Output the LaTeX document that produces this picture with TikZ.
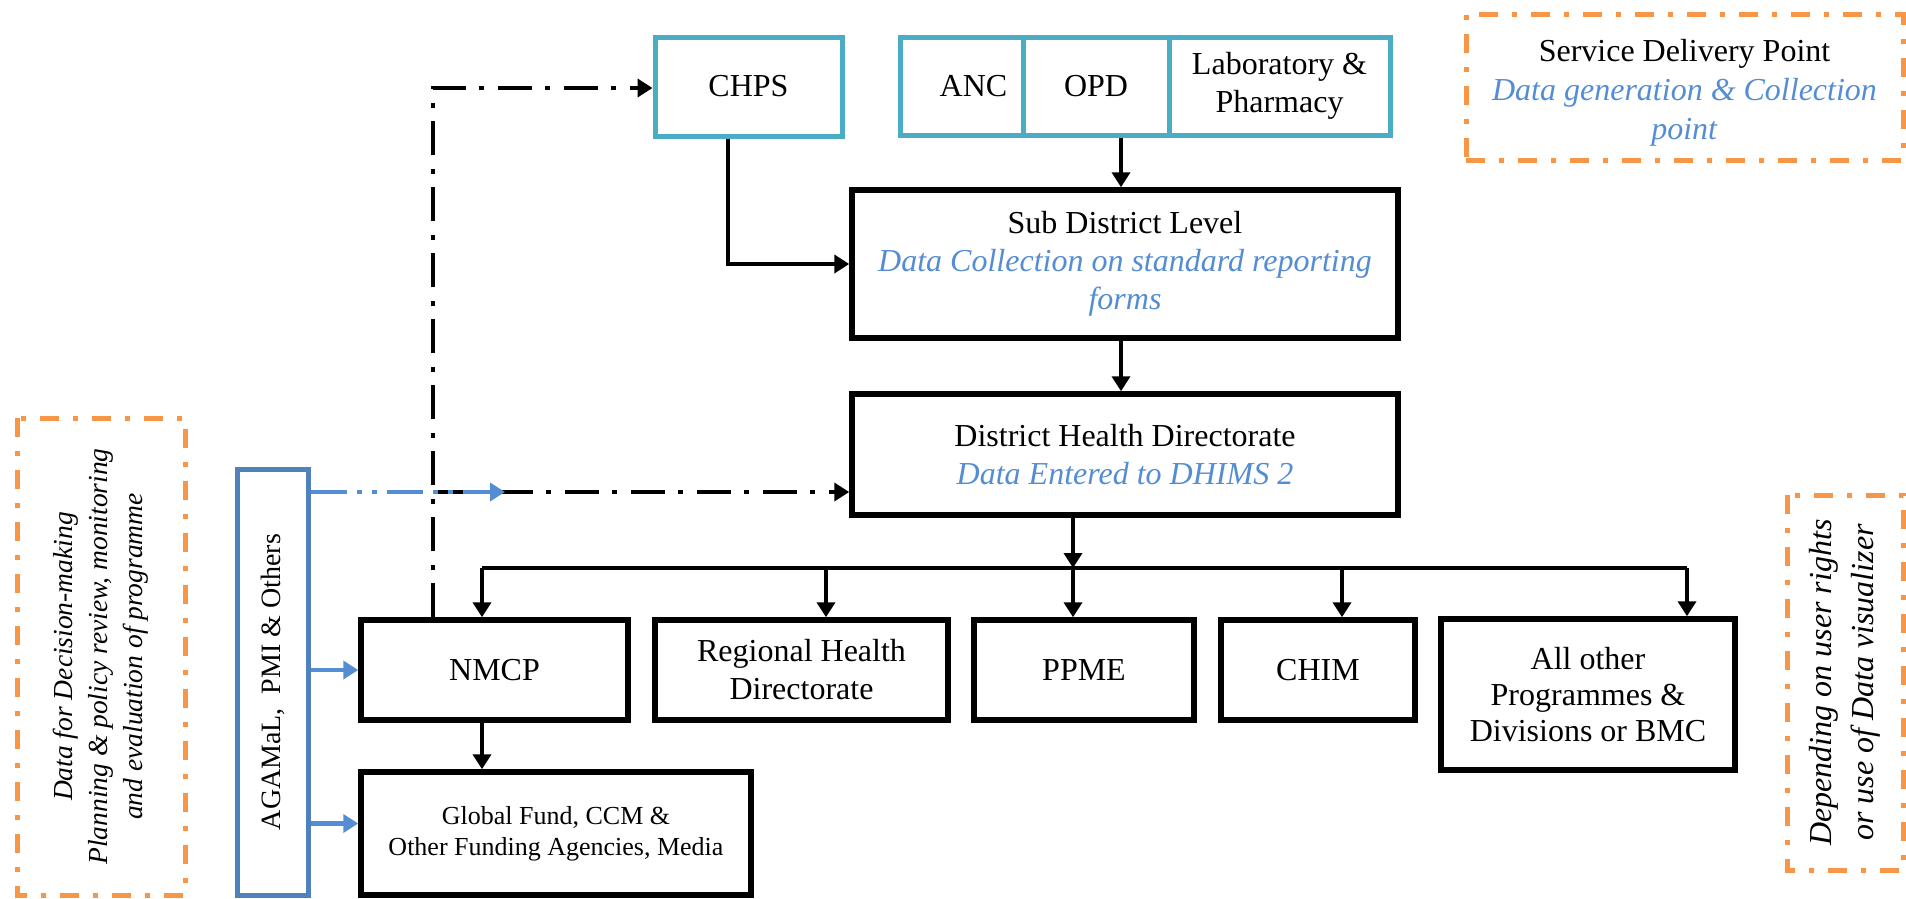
\documentclass[tikz,border=0pt]{standalone}
\usepackage{fontspec}
\setmainfont{Liberation Serif}
\usetikzlibrary{arrows.meta}
\definecolor{cyanb}{RGB}{75,172,198}
\definecolor{blueb}{RGB}{79,129,189}
\definecolor{bluet}{RGB}{84,141,212}
\definecolor{orng}{RGB}{247,150,70}
\newcommand{\bt}[1]{\textcolor{bluet}{\textit{#1}}}
\begin{document}
\begin{tikzpicture}[x=1pt,y=-1pt,
  every node/.style={font=\fontsize{32}{38}\selectfont, align=center, inner sep=0pt},
  bbox/.style={draw=black, line width=5.5pt, fill=white},
  cbox/.style={draw=cyanb, line width=5pt, fill=white},
  abox/.style={draw=blueb, line width=5pt, fill=white},
  obox/.style={draw=orng, line width=5pt, dash pattern=on 19pt off 14pt on 5pt off 14pt},
  conn/.style={draw=black, line width=4.5pt},
  arr/.style={conn, -{Triangle[length=15pt,width=18pt]}},
  ddash/.style={arr, dash pattern=on 34pt off 13pt on 5pt off 14pt},
  bluearr/.style={draw=bluet, line width=4.5pt, -{Triangle[length=15pt,width=18pt]}},
  bluedd/.style={bluearr, dash pattern=on 36pt off 10pt on 5pt off 10pt on 5pt off 10pt}
]
\useasboundingbox (0,0) rectangle (1906,898);

% orange annotation boxes
\node[obox, minimum width=437pt, minimum height=146pt,
  font=\fontsize{32}{39}\selectfont] (sdp) at (1684.5,87)
  {\rule{0pt}{34pt}Service Delivery Point\\\bt{Data generation \& Collection}\\\bt{point}};
\node[obox, rotate=90, minimum width=477pt, minimum height=168pt,
  font=\fontsize{27.5}{35}\selectfont\itshape] (dec) at (101,656.5)
  {Data for Decision-making\\Planning \& policy review, monitoring\\and evaluation of programme};
\node[obox, rotate=90, minimum width=375pt, minimum height=116pt,
  font=\fontsize{32}{42}\selectfont\itshape] (dep) at (1845,682.5)
  {Depending on user rights\\or use of Data visualizer};

% service delivery points
\node[cbox, minimum width=187pt, minimum height=99pt] (chps) at (748.5,86.5) {CHPS};
\node[cbox, minimum width=123pt, minimum height=98pt] (anc) at (961.5,86) {\hspace*{24pt}ANC};
\node[cbox, minimum width=146pt, minimum height=98pt] (opd) at (1096,86) {OPD};
\node[cbox, minimum width=221pt, minimum height=98pt] (lab) at (1279.5,86) {Laboratory \&\\Pharmacy};

% levels
\node[bbox, minimum width=546pt, minimum height=148pt,
  font=\fontsize{32}{38}\selectfont] (sub) at (1125,264)
  {Sub District Level\\\bt{Data Collection on standard reporting}\\\bt{forms}};
\node[bbox, minimum width=546pt, minimum height=121pt] (dist) at (1125,454.5)
  {District Health Directorate\\\bt{Data Entered to DHIMS 2}};

% users
\node[bbox, minimum width=267pt, minimum height=100pt] (nmcp) at (494.5,670) {NMCP};
\node[bbox, minimum width=293pt, minimum height=100pt] (reg) at (801.5,670) {Regional Health\\Directorate};
\node[bbox, minimum width=220pt, minimum height=100pt] (ppme) at (1084,670) {PPME};
\node[bbox, minimum width=194pt, minimum height=100pt] (chim) at (1318,670) {CHIM};
\node[bbox, minimum width=294pt, minimum height=151pt,
  font=\fontsize{32}{36}\selectfont] (allo) at (1588,694.5) {All other\\Programmes \&\\Divisions or BMC};
\node[bbox, minimum width=390pt, minimum height=123pt,
  font=\fontsize{26}{31}\selectfont] (glob) at (556,833.5)
  {Global Fund, CCM \&\\Other Funding Agencies, Media};
\node[abox, rotate=90, minimum width=426pt, minimum height=71pt,
  font=\fontsize{28}{34}\selectfont] (agam) at (272.5,682) {AGAMaL,\ \ PMI \& Others};

% coordinates
\coordinate (bl) at (482,568);
\coordinate (br) at (1687,568);
\coordinate (bd) at (1073,568);
\coordinate (jn) at (433,492);
\coordinate (jt) at (433,88);
\coordinate (bt) at (505,492);
\coordinate (dr) at (826,568);
\coordinate (dc) at (1342,568);

% solid flow
\draw[arr] ([xshift=-20.5pt]chps.south) |- (sub.west);
\draw[arr] ([xshift=-4pt]sub.north |- opd.south) -- ([xshift=-4pt]sub.north);
\draw[arr] ([xshift=-4pt]sub.south) -- ([xshift=-4pt]dist.north);
\draw[arr] (dist.south -| bd) -- (bd);
\draw[conn] (bl) -- (br);
\draw[arr] (bl) -- (nmcp.north -| bl);
\draw[arr] (dr) -- (reg.north -| dr);
\draw[arr] (bd) -- (ppme.north -| bd);
\draw[arr] (dc) -- (chim.north -| dc);
\draw[arr] (br) -- (allo.north -| br);
\draw[arr] (nmcp.south -| bl) -- (glob.north -| bl);

% feedback (dash-dot)
\draw[ddash] (nmcp.north -| jt) -- (jt) -- (jt -| chps.west);
\draw[ddash] (jn) -- (jn -| dist.west);

% AGAMaL arrows
\draw[bluedd] (agam.south |- jn) -- (bt);
\draw[bluearr] (agam.south |- nmcp.west) -- (nmcp.west);
\draw[bluearr] ([yshift=10pt]agam.south |- glob.west) -- ([yshift=10pt]glob.west);
\end{tikzpicture}
\end{document}
